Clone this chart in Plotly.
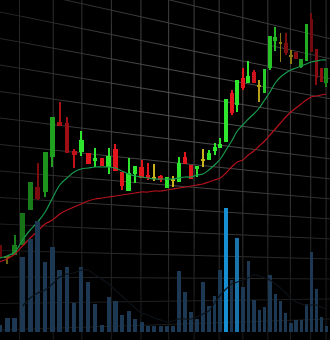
import plotly.graph_objects as go
import numpy as np

# ---------------- data ----------------
IDX = list(range(1, 55))
OPEN = [9.5, 8.3, 8.5, 9.5, 13.0, 15.3, 14.8, 18.3, 21.8, 21.7,
        18.9, 18.8, 18.7, 17.9, 18.2, 17.3, 19.1, 16.8, 14.9, 16.6,
        17.3, 16.5, 16.2, 16.4, 15.2, 16.0, 15.8, 18.3, 17.5, 17.1,
        18.0, 18.0, 18.9, 19.2, 19.8, 24.7, 23.5, 26.2, 25.7, 26.8,
        25.4, 24.7, 27.2, 29.9, 29.7, 29.7, 28.4, 28.8, 27.3, 27.9,
        32.1, 29.1, 27.2, 25.7]
CLOSE = [8.3, 8.3, 9.5, 12.7, 15.8, 14.1, 18.8, 22.3, 21.4, 18.7,
         18.5, 20.0, 17.6, 18.2, 17.4, 18.4, 16.9, 15.4, 16.7, 17.4,
         16.2, 16.2, 16.2, 16.0, 16.3, 16.0, 17.7, 17.6, 16.1, 17.4,
         18.0, 18.7, 19.3, 19.6, 24.1, 22.7, 26.0, 25.2, 26.4, 25.7,
         25.4, 27.1, 30.4, 30.3, 29.7, 28.7, 28.4, 28.1, 28.1, 31.6,
         28.8, 26.2, 25.8, 27.2]
HIGH = [9.6, 8.3, 10.5, 12.7, 15.8, 17.7, 18.8, 22.3, 23.8, 22.3,
        19.1, 20.9, 18.7, 19.2, 18.2, 19.2, 19.6, 16.8, 18.2, 17.4,
        18.0, 17.7, 17.6, 16.5, 16.3, 16.4, 18.3, 18.8, 17.5, 17.4,
        19.1, 19.0, 19.7, 20.2, 24.1, 25.0, 26.0, 27.2, 27.9, 27.0,
        26.0, 27.1, 30.4, 31.3, 30.7, 30.7, 29.0, 28.8, 28.1, 31.6,
        32.7, 29.1, 27.2, 27.2]
LOW = [8.3, 7.6, 8.5, 9.5, 13.0, 14.0, 14.3, 17.3, 21.4, 18.7,
       17.2, 18.4, 17.6, 17.3, 17.4, 16.6, 16.9, 15.0, 14.9, 15.7,
       16.2, 16.0, 15.9, 15.8, 15.2, 15.3, 15.8, 17.6, 16.1, 16.3,
       17.3, 18.0, 18.5, 19.2, 19.8, 22.5, 22.8, 25.0, 25.7, 25.7,
       23.8, 24.7, 27.0, 28.9, 27.8, 28.5, 27.6, 28.1, 27.2, 27.9,
       28.8, 25.5, 25.8, 25.3]
VOLUME = [7, 14, 14, 75, 93, 111, 70, 85, 62, 65,
          29, 65, 50, 28, 7, 35, 31, 17, 21, 13,
          10, 6, 6, 6, 6, 6, 61, 40, 20, 13,
          50, 26, 36, 62, 124, 52, 94, 45, 71, 32,
          22, 25, 57, 38, 31, 19, 9, 12, 12, 28,
          80, 43, 15, 6]
MA_FAST = [8.2, 8.4, 8.8, 10.0, 11.0, 11.8, 12.8, 14.2, 15.5, 16.2,
           16.8, 17.1, 17.2, 17.3, 17.3, 17.3, 17.2, 16.9, 16.6, 16.4,
           16.3, 16.2, 16.1, 16.1, 16.1, 16.1, 16.2, 16.3, 16.3, 16.5,
           16.6, 17.0, 17.5, 18.1, 19.0, 19.9, 20.9, 21.5, 22.1, 22.6,
           23.2, 24.0, 24.8, 25.7, 26.3, 26.7, 27.0, 27.2, 27.4, 27.6,
           27.8, 27.9, 28.0, 28.0]
MA_SLOW = [7.8, 8.1, 8.6, 9.4, 10.2, 10.9, 11.6, 12.0, 12.6, 13.0,
           13.3, 13.6, 13.9, 14.1, 14.2, 14.3, 14.4, 14.5, 14.6, 14.7,
           14.8, 14.8, 14.9, 14.9, 15.0, 15.1, 15.2, 15.3, 15.4, 15.5,
           15.6, 15.8, 16.0, 16.2, 16.7, 17.3, 17.8, 18.0, 18.5, 18.9,
           19.4, 19.9, 20.5, 21.1, 21.7, 22.3, 22.8, 23.2, 23.6, 24.0,
           24.3, 24.4, 24.5, 24.6]
VOL_MA = [None, None, None, 26, 34, 39, 42, 48, 55, 58,
          59, 62, 62, 57, 53, 48, 42, 36, 30, 24,
          19, 17, 14, 12, 10, 11, 13, 13, 13, 15,
          18, 21, 29, 37, 43, 48, 50, 52, 54, 57,
          56, 54, 52, 48, 44, 39, 34, 30, 28, 27,
          27, 27, 25, 23]

# ---------------- style ----------------
DEPTH = 85                      # perspective offset used with a log x-axis
LIGHT = [0.45, 0.55, 0.55, 0.5, 0.55, 0.55, 0.65, 0.7, 0.75, 0.7,
         0.85, 1, 1, 1, 1, 1, 1, 1, 1, 1,
         1, 1, 1, 1, 1, 1, 1, 1, 1, 1,
         1, 1, 1, 1, 1, 1, 1, 1, 1, 0.9,
         0.9, 0.9, 0.85, 0.8, 0.7, 0.55, 0.7, 0.6, 0.7, 0.75,
         0.5, 0.6, 0.65, 0.6]
GRID_IDX = [3.6, 8.1, 12.1, 16.4, 20.9, 25.3, 29.5, 33.8, 38.0, 42.6, 46.9, 50.9, 54.0]
UP, DOWN, DOJI = (46, 230, 46), (227, 22, 30), (201, 178, 28)
W, H = 330, 340
X_RANGE = [np.log10(1.1 + DEPTH), np.log10(54.8 + DEPTH)]


def shade(rgb, k):
    return "rgb(%d,%d,%d)" % tuple(int(c * k) for c in rgb)


def grid_gray(px, py):
    # lighting falloff of the grid: bright near the upper middle, dim to the edges
    d = np.hypot(px - 195, (py - 105) * 1.1)
    g = int(28 + 62 * max(0.0, 1 - d / 240))
    return "rgb(%d,%d,%d)" % (g, g, g)


xs = [i + DEPTH for i in IDX]
body_base, body_h, cols = [], [], []
for o, c, k in zip(OPEN, CLOSE, LIGHT):
    d = c - o
    if abs(d) < 0.15:
        body_base.append(o - 0.08)
        body_h.append(0.16)
        cols.append(shade(DOJI, k))
    else:
        body_base.append(o)
        body_h.append(d)
        cols.append(shade(UP if d > 0 else DOWN, k))

vol_cols = ["#1c3852"] * len(IDX)
vol_cols[34] = "#1690d2"
vol_cols[36] = "#1a74aa"

fig = go.Figure()
fig.add_trace(go.Bar(x=xs, y=VOLUME, width=0.64, marker=dict(color=vol_cols, line_width=0),
                     yaxis="y2", hoverinfo="skip"))
fig.add_trace(go.Scatter(x=xs, y=VOL_MA, mode="lines", line=dict(color="#0d1218", width=1.2, shape="spline"),
                         yaxis="y2", hoverinfo="skip"))
fig.add_trace(go.Scatter(x=xs, y=MA_SLOW, mode="lines", line=dict(color="#b5121c", width=1.2, shape="spline"),
                         hoverinfo="skip"))
fig.add_trace(go.Scatter(x=xs, y=MA_FAST, mode="lines", line=dict(color="#179a4c", width=1.2, shape="spline"),
                         hoverinfo="skip"))
fig.add_trace(go.Bar(x=xs, y=[h - l for h, l in zip(HIGH, LOW)], base=LOW, width=0.16,
                     marker=dict(color=cols, line_width=0), hoverinfo="skip"))
fig.add_trace(go.Bar(x=xs, y=body_h, base=body_base, width=0.68,
                     marker=dict(color=cols, line_width=0), hoverinfo="skip"))

# perspective grid (decoration): horizontals converge to a vanishing point on the right,
# drawn in short segments so the lighting falloff can be shown
shapes = []
VP_X, VP_Y = 1350.0, 285.0
SEG = 15
for k in range(-2, 13):
    yl = 12 + 26.5 * k
    for s in range(SEG):
        xa, xb = W * s / SEG, W * (s + 1) / SEG
        ya = yl + (VP_Y - yl) * xa / VP_X
        yb = yl + (VP_Y - yl) * xb / VP_X
        shapes.append(dict(type="line", xref="paper", yref="paper",
                           x0=xa / W, x1=xb / W, y0=1 - ya / H, y1=1 - yb / H, layer="below",
                           line=dict(color=grid_gray((xa + xb) / 2, (ya + yb) / 2), width=1)))
# verticals at fixed positions of the (log) time axis
lo, hi = X_RANGE
for g in GRID_IDX:
    fx = (np.log10(g + DEPTH) - lo) / (hi - lo)
    px = fx * W
    for s in range(SEG):
        ya, yb = H * s / SEG, H * (s + 1) / SEG
        shapes.append(dict(type="line", xref="paper", yref="paper", x0=fx, x1=fx,
                           y0=1 - ya / H, y1=1 - yb / H, layer="below",
                           line=dict(color=grid_gray(px, (ya + yb) / 2), width=1)))

fig.update_layout(
    width=W, height=H, margin=dict(l=0, r=0, t=0, b=0),
    paper_bgcolor="black", plot_bgcolor="black",
    showlegend=False, barmode="overlay", bargap=0,
    shapes=shapes,
    xaxis=dict(type="log", range=X_RANGE, showticklabels=False,
               showgrid=False, zeroline=False, showline=False, ticks=""),
    yaxis=dict(range=[0, 34], showgrid=False, showticklabels=False, zeroline=False),
    yaxis2=dict(range=[-8, 332], overlaying="y", showgrid=False, showticklabels=False,
                zeroline=False),
)

fig.write_html("out.html")
